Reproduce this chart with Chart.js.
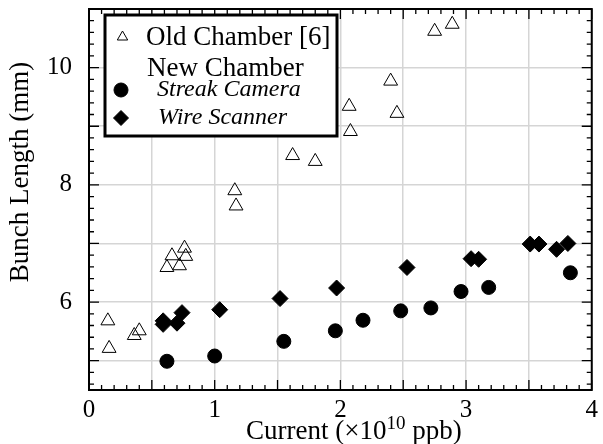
<!DOCTYPE html>
<html>
<head>
<meta charset="utf-8">
<script src="https://cdn.jsdelivr.net/npm/chart.js@4"></script>
<style>
html, body { margin: 0; padding: 0; background: #fff; }
</style>
</head>
<body>
<canvas id="chart" width="603" height="444"></canvas>
<script>
// Old Chamber [6]
const oldX = [0.15, 0.16, 0.36, 0.40, 0.62, 0.66, 0.72, 0.76, 0.77, 1.16, 1.17, 1.62, 1.80, 2.07, 2.08, 2.40, 2.45, 2.75, 2.89];
const oldY = [5.68, 5.21, 5.43, 5.51, 6.59, 6.79, 6.62, 6.92, 6.78, 7.90, 7.64, 8.50, 8.40, 9.34, 8.91, 9.77, 9.22, 10.62, 10.74];
// New Chamber - Streak Camera
const streakX = [0.62, 1.00, 1.55, 1.96, 2.18, 2.48, 2.72, 2.96, 3.18, 3.83];
const streakY = [4.99, 5.08, 5.33, 5.51, 5.69, 5.85, 5.90, 6.18, 6.25, 6.50];
// New Chamber - Wire Scanner
const wireX = [0.59, 0.59, 0.70, 0.74, 1.04, 1.52, 1.97, 2.53, 3.04, 3.10, 3.51, 3.58, 3.72, 3.81];
const wireY = [5.68, 5.62, 5.64, 5.82, 5.87, 6.06, 6.24, 6.59, 6.74, 6.73, 6.99, 6.99, 6.90, 7.00];

const xTickLabels = [0, 1, 2, 3, 4];
const yTickLabels = [6, 8, 10];

const FONT = "'Liberation Serif', 'Times New Roman', serif";

function pts(xs, ys) {
  return xs.map((x, i) => ({ x: x, y: ys[i] }));
}

// frame, inner ticks, legend box, axis titles
const decor = {
  id: "decor",
  afterDraw(chart) {
    const ctx = chart.ctx;
    const a = chart.chartArea;
    const xs = chart.scales.x, ys = chart.scales.y;
    ctx.save();
    ctx.strokeStyle = "#000";
    ctx.lineWidth = 2;
    ctx.strokeRect(a.left, a.top, a.right - a.left, a.bottom - a.top);

    ctx.lineWidth = 1.3;
    ctx.beginPath();
    for (let i = 0; i <= 40; i++) {
      const px = xs.getPixelForValue(i / 10);
      const len = i % 5 === 0 ? 10 : 5;
      ctx.moveTo(px, a.bottom); ctx.lineTo(px, a.bottom - len);
      ctx.moveTo(px, a.top); ctx.lineTo(px, a.top + len);
    }
    for (let i = 23; i <= 55; i++) {
      const py = ys.getPixelForValue(i / 5);
      const len = i % 5 === 0 ? 10 : 5;
      ctx.moveTo(a.left, py); ctx.lineTo(a.left + len, py);
      ctx.moveTo(a.right, py); ctx.lineTo(a.right - len, py);
    }
    ctx.stroke();

    // legend
    ctx.fillStyle = "#fff";
    ctx.fillRect(105, 15, 232, 121);
    ctx.lineWidth = 3;
    ctx.strokeRect(105, 15, 232, 121);

    ctx.fillStyle = "#000";
    ctx.textBaseline = "alphabetic";
    ctx.textAlign = "left";
    ctx.font = "27px " + FONT;
    ctx.fillText("Old Chamber [6]", 146, 45);
    ctx.fillText("New Chamber", 147, 76);
    ctx.font = "italic 24px " + FONT;
    ctx.fillText("Streak Camera", 157, 96);
    ctx.fillText("Wire Scanner", 158, 124);

    ctx.lineWidth = 1;
    ctx.strokeStyle = "#000";
    ctx.fillStyle = "#fff";
    Chart.helpers.drawPoint(ctx, { pointStyle: "triangle", radius: 6, borderWidth: 1 }, 122.5, 37);
    ctx.fillStyle = "#000";
    Chart.helpers.drawPoint(ctx, { pointStyle: "circle", radius: 7, borderWidth: 1 }, 121, 90);
    Chart.helpers.drawPoint(ctx, { pointStyle: "rectRot", radius: 7.5, borderWidth: 1 }, 121, 118);

    // x title with superscript
    const main = "27px " + FONT, sup = "19px " + FONT;
    const p1 = "Current (\u00d710", p2 = "10", p3 = " ppb)";
    ctx.font = main;
    const w1 = ctx.measureText(p1).width;
    ctx.font = sup;
    const w2 = ctx.measureText(p2).width;
    const x0 = 246, base = 439;
    ctx.font = main; ctx.fillText(p1, x0, base);
    ctx.font = sup; ctx.fillText(p2, x0 + w1, base - 10);
    ctx.font = main; ctx.fillText(p3, x0 + w1 + w2, base);

    // y title
    ctx.translate(28, 172);
    ctx.rotate(-Math.PI / 2);
    ctx.textAlign = "center";
    ctx.font = "27px " + FONT;
    ctx.fillText("Bunch Length (mm)", 0, 0);
    ctx.restore();
  }
};

new Chart(document.getElementById("chart"), {
  type: "scatter",
  data: {
    datasets: [
      {
        label: "Old Chamber [6]",
        data: pts(oldX, oldY),
        pointStyle: "triangle",
        pointRadius: 8,
        pointBorderWidth: 1,
        borderColor: "#000",
        backgroundColor: "rgba(255,255,255,0)",
      },
      {
        label: "Streak Camera",
        data: pts(streakX, streakY),
        pointStyle: "circle",
        pointRadius: 7,
        pointBorderWidth: 1,
        borderColor: "#000",
        backgroundColor: "#000",
      },
      {
        label: "Wire Scanner",
        data: pts(wireX, wireY),
        pointStyle: "rectRot",
        pointRadius: 8,
        pointBorderWidth: 1,
        borderColor: "#000",
        backgroundColor: "#000",
      },
    ],
  },
  options: {
    responsive: false,
    animation: false,
    layout: { padding: { top: 7, right: 5, left: 0, bottom: 0 } },
    plugins: {
      legend: { display: false },
      tooltip: { enabled: false },
    },
    scales: {
      x: {
        type: "linear",
        min: 0,
        max: 4,
        afterFit(s) { s.height = 54; },
        ticks: {
          stepSize: 0.5,
          autoSkip: false,
          maxRotation: 0,
          padding: 5,
          color: "#000",
          font: { family: FONT, size: 25 },
          callback: (v) => (xTickLabels.includes(v) ? String(v) : ""),
        },
        grid: { color: "#d5d5d5", lineWidth: 1.5, drawTicks: false },
        border: { display: false },
      },
      y: {
        type: "linear",
        min: 4.5,
        max: 11,
        afterFit(s) { s.width = 89; s.paddingTop = 0; s.paddingBottom = 0; },
        afterBuildTicks(s) { s.ticks = [5, 6, 7, 8, 9, 10].map((v) => ({ value: v })); },
        ticks: {
          autoSkip: false,
          padding: 17,
          color: "#000",
          font: { family: FONT, size: 25 },
          callback: (v) => (yTickLabels.includes(v) ? String(v) : ""),
        },
        grid: { color: "#d5d5d5", lineWidth: 1.5, drawTicks: false },
        border: { display: false },
      },
    },
  },
  plugins: [decor],
});
</script>
</body>
</html>
